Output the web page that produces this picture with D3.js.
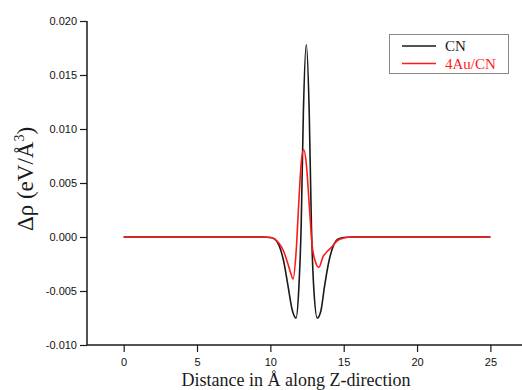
<html>
<head>
    <title> Charge density difference </title>
    <style>
        body { margin: 0; background: #fff; }
        #main-svg { display: block; }
        .tick text { font-family: "Liberation Sans", Arial, sans-serif; font-size: 11px; fill: #111; }
        .axis-title { font-family: "Liberation Serif", "Times New Roman", serif; fill: #1a1a1a; }
    </style>
</head>
<script src="https://d3js.org/d3.v7.min.js"></script>
<body>
    <svg id="main-svg" width="522" height="390"></svg>
    <script>
        // values
        const seriesNames = ["CN", "4Au/CN"];
        const seriesColors = ["#1a1a1a", "#ff1a1a"];

        const cnX = [0, 9.5, 10.0, 10.3, 10.6, 10.9, 11.2, 11.5, 11.75, 11.95, 12.1, 12.25, 12.45, 12.65, 12.8, 12.95, 13.2, 13.45, 13.7, 14.0, 14.3, 14.6, 15.0, 15.5, 25];
        const cnY = [0, 0, -0.00005, -0.0002, -0.0008, -0.0022, -0.0045, -0.0068, -0.0075, -0.0045, 0.0010, 0.0115, 0.0178, 0.0115, 0.0010, -0.0045, -0.0075, -0.0068, -0.0045, -0.0022, -0.0008, -0.0002, -0.00005, 0, 0];

        const auX = [0, 9.5, 10.0, 10.3, 10.6, 10.9, 11.2, 11.4, 11.55, 11.75, 11.95, 12.1, 12.27, 12.45, 12.65, 12.85, 13.05, 13.3, 13.6, 13.9, 14.2, 14.6, 15.0, 15.5, 25];
        const auY = [0, 0, -0.00005, -0.0002, -0.0006, -0.0013, -0.0025, -0.0034, -0.0039, -0.0015, 0.0035, 0.0068, 0.0081, 0.0068, 0.0030, -0.0008, -0.0022, -0.0028, -0.0018, -0.0013, -0.0009, -0.0003, -0.0001, 0, 0];

        const xTicks = [0, 5, 10, 15, 20, 25];
        const yTicks = [-0.010, -0.005, 0.000, 0.005, 0.010, 0.015, 0.020];

        const svg = d3.select("#main-svg");
        const padL = 87, padT = 21, padB = 345, padR = 530;

        const x = d3.scaleLinear().domain([-2.5, 27.7]).range([padL, padR]);
        const y = d3.scaleLinear().domain([-0.010, 0.020]).range([padB, padT]);

        // minor ticks
        const xMinor = d3.range(-2.5, 27.6, 2.5).filter(v => xTicks.indexOf(v) < 0);
        const yMinor = d3.range(-0.0075, 0.020, 0.005);

        const gx = svg.append("g").attr("transform", `translate(0,${padB})`);
        gx.call(d3.axisBottom(x).tickValues(xMinor).tickSize(4).tickFormat(""));
        gx.call(d3.axisBottom(x).tickValues(xTicks).tickSize(7).tickPadding(6).tickFormat(d3.format("d")));
        gx.selectAll("path.domain").remove();
        gx.append("line").attr("x1", padL).attr("x2", 522).attr("stroke", "#1a1a1a").attr("stroke-width", 1.5);

        const gy = svg.append("g").attr("transform", `translate(${padL},0)`);
        gy.call(d3.axisLeft(y).tickValues(yMinor).tickSize(4).tickFormat(""));
        gy.call(d3.axisLeft(y).tickValues(yTicks).tickSize(7).tickPadding(3).tickFormat(d3.format(".3f")));
        gy.selectAll("path.domain").remove();
        gy.append("line").attr("y1", padT).attr("y2", padB).attr("stroke", "#1a1a1a").attr("stroke-width", 1.5);

        svg.selectAll(".tick line").attr("stroke", "#1a1a1a").attr("stroke-width", 1.2);
        svg.selectAll(".tick text").text(function () { return this.textContent.replace("−", "-"); });

        // curves
        const line = d3.line().x(d => x(d[0])).y(d => y(d[1])).curve(d3.curveMonotoneX);
        const series = [d3.zip(cnX, cnY), d3.zip(auX, auY)];
        series.forEach((s, i) => {
            svg.append("path")
                .datum(s)
                .attr("d", line)
                .attr("fill", "none")
                .attr("stroke", seriesColors[i])
                .attr("stroke-width", 1.6);
        });

        // axis titles
        svg.append("text")
            .attr("class", "axis-title")
            .attr("x", 296).attr("y", 386)
            .attr("text-anchor", "middle")
            .style("font-size", "18px")
            .text("Distance in Å along Z-direction");

        const yt = svg.append("text")
            .attr("class", "axis-title")
            .attr("transform", "translate(33,179) rotate(-90)")
            .attr("text-anchor", "middle")
            .style("font-size", "23px");
        yt.append("tspan").text("Δρ (eV/Å");
        yt.append("tspan").attr("dy", -9).style("font-size", "14px").text("3");
        yt.append("tspan").attr("dy", 9).text(")");

        // legend
        const lg = svg.append("g");
        lg.append("rect")
            .attr("x", 389.5).attr("y", 34.5)
            .attr("width", 119).attr("height", 39)
            .attr("fill", "#fff").attr("stroke", "#888").attr("stroke-width", 1);
        seriesNames.forEach((n, i) => {
            const yy = 46 + i * 17.5;
            lg.append("line")
                .attr("x1", 402).attr("x2", 436)
                .attr("y1", yy).attr("y2", yy)
                .attr("stroke", seriesColors[i]).attr("stroke-width", 1.6);
            lg.append("text")
                .attr("class", "axis-title")
                .attr("x", 445).attr("y", yy + 5)
                .style("font-size", "15px")
                .style("fill", seriesColors[i])
                .text(n);
        });
    </script>
</body>
</html>
